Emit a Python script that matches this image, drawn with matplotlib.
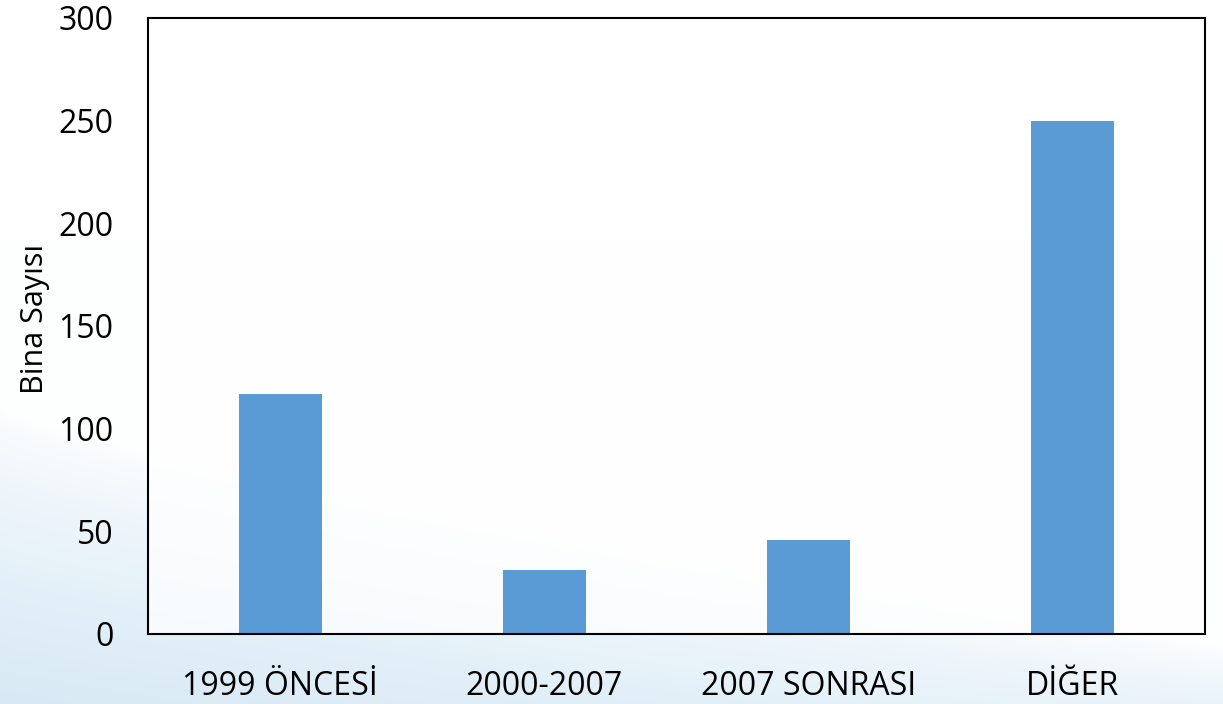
import numpy as np
import matplotlib
matplotlib.use("Agg")
import matplotlib.pyplot as plt

# veriler
kategoriler = ["1999 ÖNCESİ", "2000-2007", "2007 SONRASI", "DİĞER"]
bina_sayisi = [117, 31, 46, 250]
y_ticks = [0, 50, 100, 150, 200, 250, 300]

plt.rcParams['font.family'] = ['Open Sans', 'DejaVu Sans']

fig = plt.figure(figsize=(12.23, 7.04), dpi=100)

# arka plan: alt-solda açık mavi dalga
bg = fig.add_axes([0, 0, 1, 1], zorder=0)
h, w = 352, 612
xx, yy = np.meshgrid(np.linspace(0, 1, w), np.linspace(1, 0, h))
sinir = 0.42 - 0.34 * xx ** 0.8
agirlik = np.clip((sinir - yy) / np.maximum(sinir, 1e-3), 0, 1) ** 0.7
agirlik = agirlik * (1 - 0.5 * xx)
agirlik += 0.03 * (yy < 0.66)
agirlik = np.clip(agirlik * 0.75, 0, 1)
beyaz = np.array([1.0, 1.0, 1.0])
mavi = np.array([0.80, 0.89, 0.95])
img = beyaz[None, None, :] * (1 - agirlik[..., None]) + mavi[None, None, :] * agirlik[..., None]
bg.imshow(img, aspect='auto', extent=[0, 1, 0, 1], interpolation='bilinear')
bg.axis('off')

ax = fig.add_axes([148 / 1223, 1 - 634 / 704, (1205 - 148) / 1223, (634 - 18) / 704], zorder=1)
ax.set_facecolor((1, 1, 1, 0.75))

x = np.arange(len(kategoriler))
ax.bar(x, bina_sayisi, width=0.315, color='#5B9BD5')

ax.set_xlim(-0.5, len(kategoriler) - 0.5)
ax.set_ylim(0, 300)
ax.set_yticks(y_ticks)
ax.set_xticks(x)
ax.set_xticklabels(kategoriler)
ax.tick_params(axis='both', length=0, labelsize=23, colors='black')
ax.tick_params(axis='x', pad=26)
ax.tick_params(axis='y', pad=25)
for sp in ax.spines.values():
    sp.set_linewidth(1.5)
    sp.set_color('black')

ax.set_ylabel("Bina Sayısı", fontsize=22)
ax.yaxis.set_label_coords(-0.093, 0.512)

fig.savefig("out.png", dpi=100)
